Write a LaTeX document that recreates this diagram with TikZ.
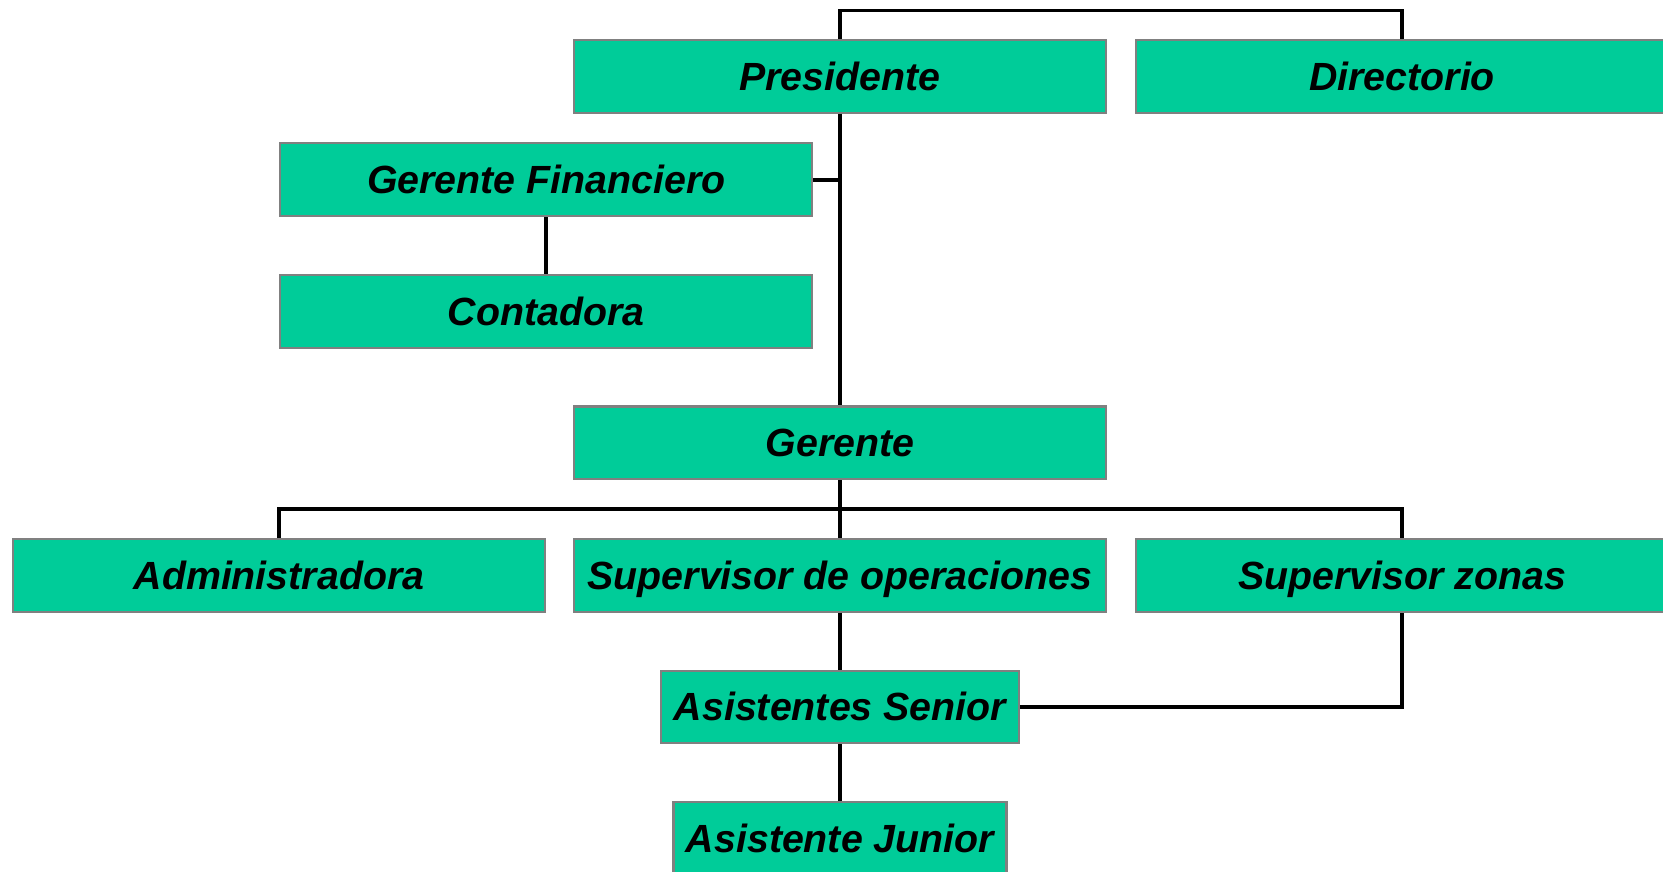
\documentclass[tikz,border=0pt]{standalone}
\usepackage{fontspec}
\setmainfont{Liberation Sans}
\definecolor{boxfill}{HTML}{00CC99}
\definecolor{boxline}{HTML}{808080}
\begin{document}
\begin{tikzpicture}[x=0.02cm,y=-0.02cm,
  orgbox/.style={draw=boxline,line width=1.1pt,fill=boxfill,rectangle,inner sep=0pt,
    minimum height=1.37cm,text height=15.1pt,text depth=0pt,
    font=\fontsize{21.1}{25}\selectfont\bfseries\itshape},
  wide/.style={orgbox,minimum width=10.04cm},
  conn/.style={draw=black,line width=2pt}]
\useasboundingbox (0,0) rectangle (1568,822);
\clip (0,0) rectangle (1568,822);
\fill[white] (0,0) rectangle (1568,822);
% nodes
\node[wide] (pres) at (792,72) {Presidente};
\node[wide] (dir) at (1322,72) {Directorio};
\node[wide] (gf) at (515,169.5) {Gerente Financiero};
\node[wide] (cont) at (515,293.5) {Contadora};
\node[wide] (ger) at (792,417.5) {Gerente};
\node[wide] (admin) at (263,542.5) {Administradora};
\node[wide] (supop) at (792,542.5) {Supervisor de operaciones};
\node[wide] (supz) at (1322,542.5) {Supervisor zonas};
\node[orgbox,minimum width=6.76cm] (asen) at (792,666.5) {Asistentes Senior};
\node[orgbox,minimum width=6.28cm] (ajun) at (792,790.5) {Asistente Junior};
\coordinate (topc) at (792,10);
\coordinate (bus) at (792,480);
% connectors
\draw[conn] (pres.north) -- (topc) -| (dir.north);
\draw[conn] (pres.south) -- (ger.north);
\draw[conn] (gf.east) -- (gf.east -| pres.south);
\draw[conn] (gf.south) -- (cont.north);
\draw[conn] (ger.south) -- (supop.north);
\draw[conn] (admin.north) |- (bus) -| (supz.north);
\draw[conn] (supop.south) -- (asen.north);
\draw[conn] (asen.south) -- (ajun.north);
\draw[conn] (asen.east) -| (supz.south);
\end{tikzpicture}
\end{document}
